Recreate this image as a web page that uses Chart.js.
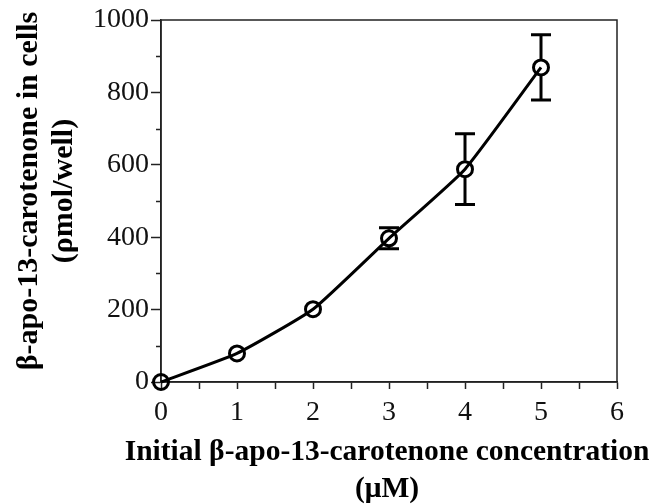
<!DOCTYPE html>
<html>
<head>
<meta charset="utf-8">
<script src="https://cdn.jsdelivr.net/npm/chart.js@4"></script>
<style>
  html, body { margin: 0; padding: 0; background: #fff; }
  canvas { display: block; }
</style>
</head>
<body>
<canvas id="uptakeChart" width="655" height="504"></canvas>
<script>
// uptake of beta-apo-13-carotenone vs. initial medium concentration
const concentrations = [0, 1, 2, 3, 4, 5];
const cellAmounts = [0, 79, 201, 397, 588, 869];
const errorMargins = [0, 0, 0, 29, 98, 90];

const yTitleLines = ["\u03b2-apo-13-carotenone in cells", "(\u03c1mol/well)"];
const xTitleLines = ["Initial \u03b2-apo-13-carotenone concentration", "(\u03bcM)"];

const AXIS_COLOR = "#222";
const MARKER_RADIUS = 7.5;
const SERIF = "'Liberation Serif', 'Times New Roman', serif";

const points = concentrations.map((x, i) => ({ x, y: cellAmounts[i] }));

// box round the plot area + short minor ticks on the y axis
const framePlugin = {
  id: "frame",
  beforeDatasetsDraw(chart) {
    const { ctx, chartArea: a, scales } = chart;
    ctx.save();
    ctx.strokeStyle = AXIS_COLOR;
    ctx.lineWidth = 1.5;
    ctx.strokeRect(a.left, a.top, a.right - a.left, a.bottom - a.top);
    ctx.beginPath();
    for (let v = 100; v < 1000; v += 200) {
      const py = Math.round(scales.y.getPixelForValue(v)) + 0.5;
      ctx.moveTo(a.left - 5, py);
      ctx.lineTo(a.left, py);
    }
    ctx.stroke();
    ctx.restore();
  }
};

// axis titles drawn by hand so the long x title is not squeezed to the axis width
const axisTitlePlugin = {
  id: "axisTitles",
  afterDraw(chart) {
    const { ctx, chartArea: a } = chart;
    ctx.save();
    ctx.fillStyle = "#000";
    ctx.textAlign = "center";
    ctx.textBaseline = "middle";

    ctx.font = "bold 29.5px " + SERIF;
    const xc = (a.left + a.right) / 2 - 2;
    xTitleLines.forEach((line, i) => ctx.fillText(line, xc, a.bottom + 70 + i * 37));

    ctx.font = "bold 30px " + SERIF;
    ctx.translate(0, (a.top + a.bottom) / 2 - 10);
    ctx.rotate(-Math.PI / 2);
    yTitleLines.forEach((line, i) => ctx.fillText(line, 0, 29 + i * 35));
    ctx.restore();
  }
};

// vertical error bars with caps, gap left for the open marker
const errorBarPlugin = {
  id: "errorBars",
  afterDatasetsDraw(chart) {
    const { ctx, scales } = chart;
    ctx.save();
    ctx.strokeStyle = "#000";
    ctx.lineWidth = 3;
    ctx.lineCap = "butt";
    points.forEach((p, i) => {
      const err = errorMargins[i];
      if (!err) return;
      const px = scales.x.getPixelForValue(p.x);
      const py = scales.y.getPixelForValue(p.y);
      const top = scales.y.getPixelForValue(p.y + err);
      const bottom = scales.y.getPixelForValue(p.y - err);
      const cap = 10;
      const gap = MARKER_RADIUS + 1;
      ctx.beginPath();
      if (py - top > gap) {
        ctx.moveTo(px, top);
        ctx.lineTo(px, py - gap);
      }
      if (bottom - py > gap) {
        ctx.moveTo(px, py + gap);
        ctx.lineTo(px, bottom);
      }
      ctx.moveTo(px - cap, top);
      ctx.lineTo(px + cap, top);
      ctx.moveTo(px - cap, bottom);
      ctx.lineTo(px + cap, bottom);
      ctx.stroke();
    });
    ctx.restore();
  }
};

const tickFont = { family: SERIF, size: 28 };

new Chart(document.getElementById("uptakeChart"), {
  type: "line",
  data: {
    datasets: [{
      data: points,
      borderColor: "#000",
      borderWidth: 3,
      tension: 0.15,
      pointRadius: MARKER_RADIUS,
      pointBorderWidth: 3,
      pointBorderColor: "#000",
      pointBackgroundColor: "rgba(0,0,0,0)",
      clip: false
    }]
  },
  options: {
    responsive: false,
    animation: false,
    devicePixelRatio: 1,
    layout: { padding: { left: 0, right: 38, top: 20, bottom: 0 } },
    plugins: {
      legend: { display: false },
      tooltip: { enabled: false }
    },
    scales: {
      x: {
        type: "linear",
        min: 0,
        max: 6,
        afterFit(scale) { scale.height = 122; },
        border: { color: AXIS_COLOR, width: 1.5 },
        grid: { drawOnChartArea: false, drawTicks: true, tickLength: 7, color: AXIS_COLOR, tickWidth: 1.5 },
        ticks: {
          stepSize: 0.5,
          autoSkip: false,
          maxRotation: 0,
          padding: 7,
          color: "#111",
          font: tickFont,
          callback: (v) => (Number.isInteger(v) ? String(v) : "")
        }
      },
      y: {
        min: 0,
        max: 1000,
        afterFit(scale) { scale.width = 161; },
        border: { color: AXIS_COLOR, width: 1.5 },
        grid: {
          drawOnChartArea: false,
          drawTicks: true,
          tickLength: 10,
          tickWidth: 1.5,
          tickColor: (c) => (c.tick && c.tick.value % 200 === 0 ? AXIS_COLOR : "rgba(0,0,0,0)")
        },
        ticks: {
          stepSize: 100,
          autoSkip: false,
          padding: 2,
          color: "#111",
          font: tickFont,
          callback: (v) => (v % 200 === 0 ? String(v) : "")
        }
      }
    }
  },
  plugins: [framePlugin, errorBarPlugin, axisTitlePlugin]
});
</script>
</body>
</html>
